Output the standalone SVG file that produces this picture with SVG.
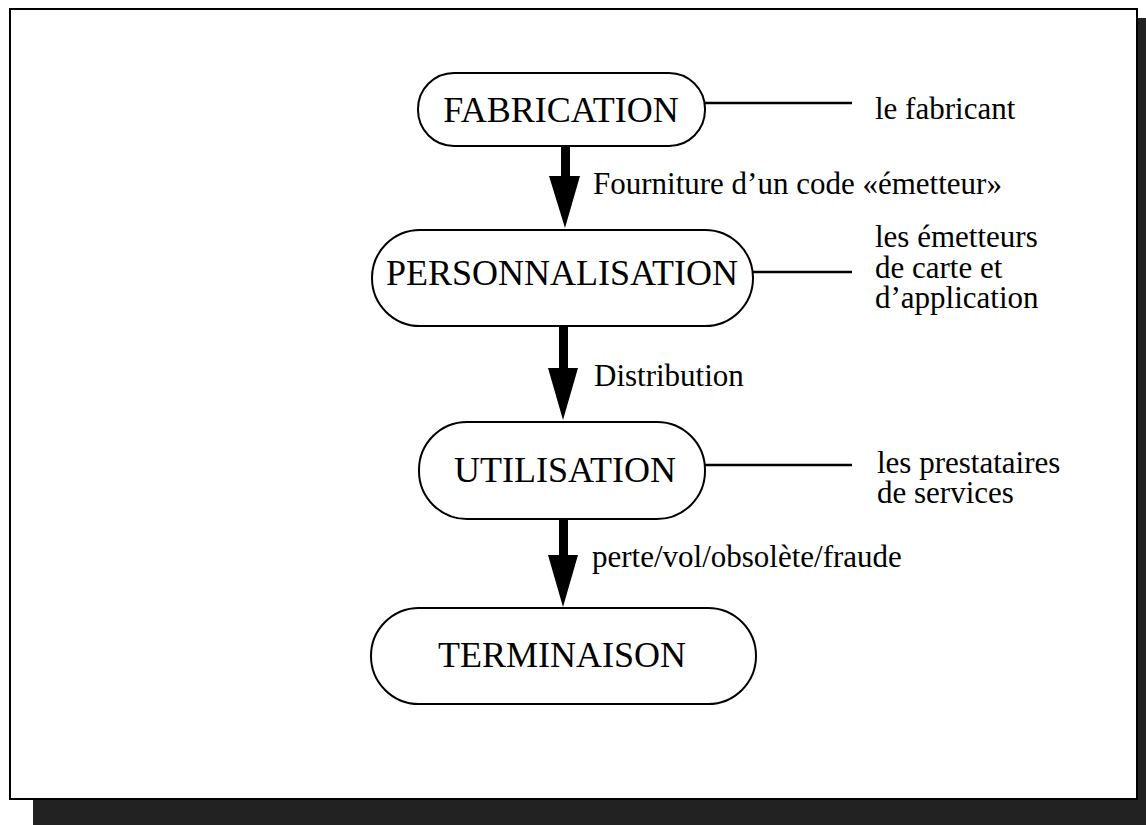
<svg xmlns="http://www.w3.org/2000/svg" width="1146" height="825" viewBox="0 0 1146 825">
  <style>
    .node { fill: #ffffff; stroke: #000000; stroke-width: 2; }
    .title { font-family: "Liberation Serif", "Times New Roman", serif; font-size: 36px; fill: #000; text-anchor: middle; }
    .label { font-family: "Liberation Serif", "Times New Roman", serif; font-size: 31px; fill: #000; }
    .link { stroke: #000; stroke-width: 2.5; fill: none; }
    .flow { fill: #000; }
  </style>

  <!-- drop shadow and page frame -->
  <rect x="33" y="18" width="1113" height="807" fill="#222222"/>
  <rect x="10" y="9" width="1127" height="790" fill="#ffffff" stroke="#000" stroke-width="2"/>

  <!-- connectors: lifecycle arrows and actor links -->
  <g id="connectors">
    <path class="flow" d="M561,146 H570 V176 H580 L565,228 L549,176 H561 Z"/>
    <path class="flow" d="M559,326 H568 V368 H578 L563,420 L548,368 H559 Z"/>
    <path class="flow" d="M559,519 H568 V555 H578 L563,607 L548,555 H559 Z"/>
    <line class="link" x1="705" y1="103" x2="852" y2="103"/>
    <line class="link" x1="753" y1="272" x2="852" y2="272"/>
    <line class="link" x1="705" y1="465" x2="852" y2="465"/>
  </g>

  <!-- transition labels -->
  <g id="transition-labels">
    <text class="label" x="593" y="194">Fourniture d’un code «émetteur»</text>
    <text class="label" x="594" y="386">Distribution</text>
    <text class="label" x="592" y="567">perte/vol/obsolète/fraude</text>
  </g>

  <g id="node-fabrication">
    <rect class="node" x="418" y="73" width="287" height="73" rx="36" ry="36"/>
    <text class="title" x="561" y="122">FABRICATION</text>
  </g>

  <g id="node-personnalisation">
    <rect class="node" x="372" y="230" width="381" height="96" rx="48" ry="48"/>
    <text class="title" x="562" y="285">PERSONNALISATION</text>
  </g>

  <g id="node-utilisation">
    <rect class="node" x="419" y="422" width="286" height="97" rx="48" ry="48"/>
    <text class="title" x="565" y="482">UTILISATION</text>
  </g>

  <g id="node-terminaison">
    <rect class="node" x="371" y="608" width="385" height="96" rx="48" ry="48"/>
    <text class="title" x="562" y="667">TERMINAISON</text>
  </g>

  <!-- actors -->
  <g id="actor-fabricant">
    <text class="label" x="875" y="119">le fabricant</text>
  </g>
  <g id="actor-emetteurs">
    <text class="label" x="875" y="247">les émetteurs<tspan x="875" dy="31">de carte et</tspan><tspan x="875" dy="30">d’application</tspan></text>
  </g>
  <g id="actor-prestataires">
    <text class="label" x="877" y="473">les prestataires<tspan x="877" dy="30">de services</tspan></text>
  </g>
</svg>
